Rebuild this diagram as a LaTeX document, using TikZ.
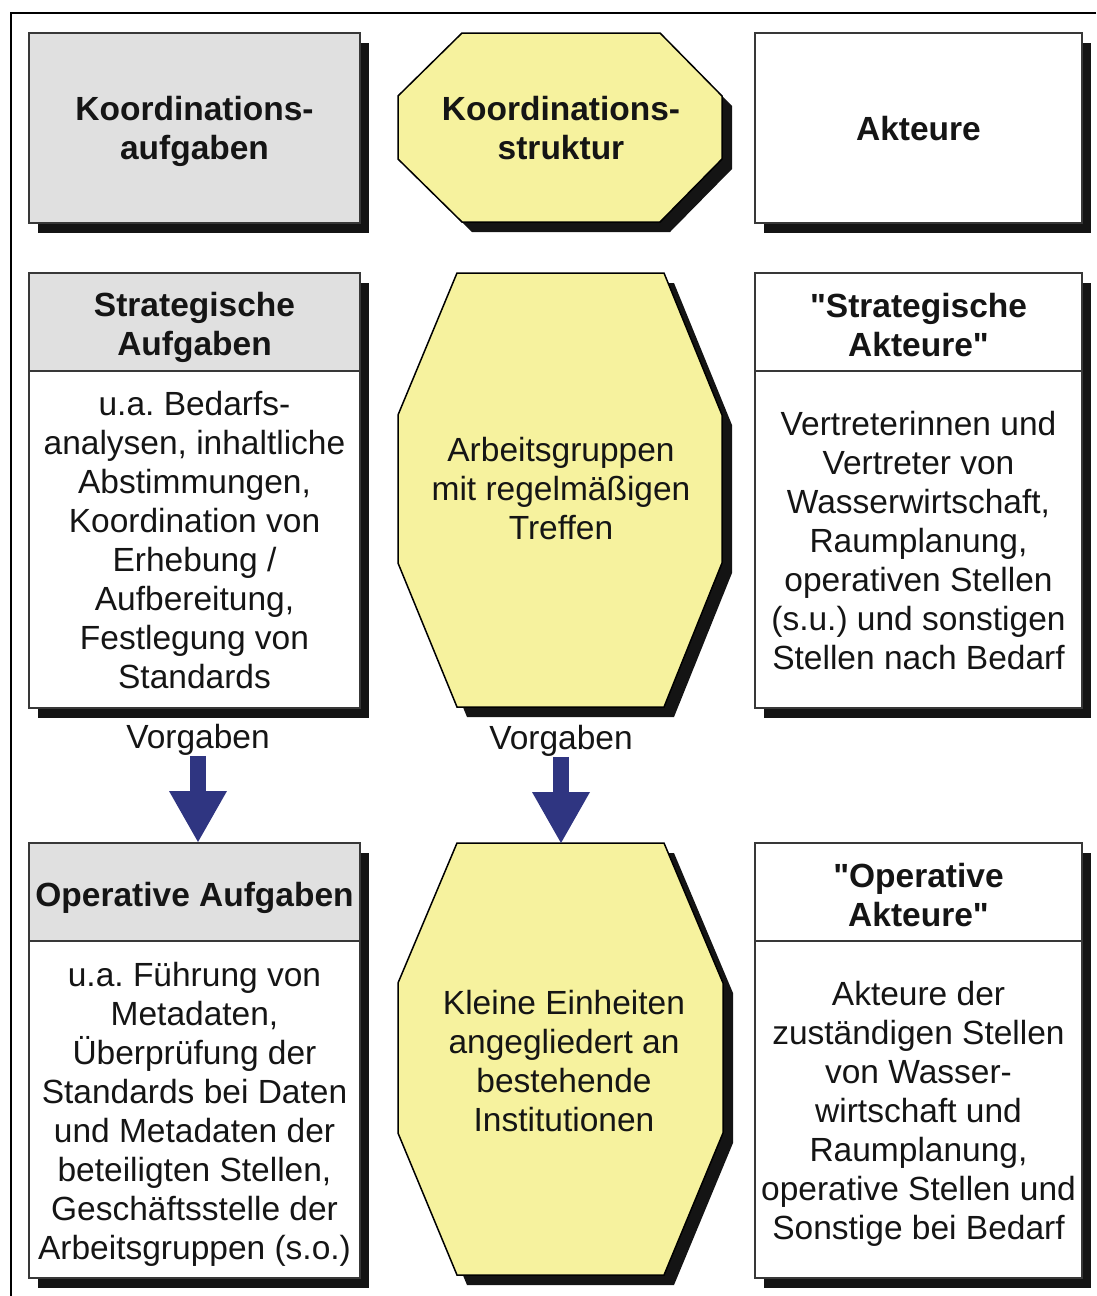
\documentclass[tikz,border=0pt]{standalone}
\usepackage{fontspec}
\setmainfont{Liberation Sans}
\usetikzlibrary{shadows,calc}
\definecolor{shadowc}{HTML}{141414}
\definecolor{boxgray}{HTML}{E0E0E0}
\definecolor{hexyellow}{HTML}{F6F29E}
\definecolor{edge}{HTML}{383838}
\definecolor{navy}{HTML}{2F3581}
\definecolor{ink}{HTML}{151515}
\newcommand{\qq}{\textquotedbl}

\begin{document}
\frenchspacing
\begin{tikzpicture}[x=1pt,y=-1pt,
  txt/.style={font=\fontsize{33.5pt}{39pt}\selectfont, text=ink, align=center, inner sep=0pt},
  bold/.style={txt, font=\fontsize{33.5pt}{39pt}\selectfont\bfseries},
  panel/.style={draw=edge, line width=2pt, minimum width=331pt, inner sep=0pt,
    drop shadow={shadow xshift=9pt, shadow yshift=-10pt, fill=shadowc, opacity=1}},
  header/.style={draw=edge, line width=2pt, fill=boxgray, minimum width=331pt,
    minimum height=98pt, anchor=north, inner sep=0pt},
  hexa/.style={fill=hexyellow, draw=black, line width=1.5pt, line join=miter},
  hexshadow/.style={fill=shadowc},
  frame/.style={line width=1.5pt, black},
  shaft/.style={navy, line width=16pt}
]
\useasboundingbox (0,0) rectangle (1096,1296);

% outer frame (top and left edges)
\coordinate (ftr) at (1096,13);
\coordinate (ftl) at (11,13);
\coordinate (fbl) at (11,1296);
\draw[frame] (ftr) -- (ftl) -- (fbl);

% ---------- row 1: column heads ----------
\node[panel, fill=boxgray, minimum height=190pt] (koa) at (194.5,128) {};
\node[bold, yshift=-3.5pt] (koat) at (koa.center) {Koordinations-\\aufgaben};

\fill[hexshadow, shift={(10,10)}] (462,33) -- (660,33) -- (722,96) -- (722,159)
  -- (660,222) -- (462,222) -- (398,159) -- (398,96) -- cycle;
\draw[hexa] (462,33) -- (660,33) -- (722,96) -- (722,159)
  -- (660,222) -- (462,222) -- (398,159) -- (398,96) -- cycle;
\node[bold] (kos) at (561,128) {Koordinations-\\struktur};

\node[panel, fill=white, minimum width=327pt, minimum height=190pt] (akt) at (918.5,128) {};
\node[bold, yshift=-1pt] (aktt) at (akt.center) {Akteure};

% ---------- row 2: strategic level ----------
\node[panel, fill=white, minimum height=435pt] (sa) at (194.5,490.5) {};
\node[header] (sah) at (sa.north) {};
\node[bold, yshift=-5.5pt] (saht) at (sah.center) {Strategische\\Aufgaben};
\node[txt] (sab) at ($(sah.south)!0.5!(sa.south)$)
  {u.a. Bedarfs-\\analysen, inhaltliche\\Abstimmungen,\\Koordination von\\Erhebung /\\Aufbereitung,\\Festlegung von\\Standards};

\fill[hexshadow, shift={(10,10)}] (457,273) -- (664,273) -- (722,415) -- (722,563)
  -- (664,707) -- (457,707) -- (398,563) -- (398,415) -- cycle;
\draw[hexa] (457,273) -- (664,273) -- (722,415) -- (722,563)
  -- (664,707) -- (457,707) -- (398,563) -- (398,415) -- cycle;
\node[txt] (ag) at (561,489) {Arbeitsgruppen\\mit regelmäßigen\\Treffen};

\node[panel, fill=white, minimum width=327pt, minimum height=435pt] (sak) at (918.5,490.5) {};
\node[header, fill=white, minimum width=327pt] (sakh) at (sak.north) {};
\node[bold, yshift=-3pt] (sakht) at (sakh.center) {\qq Strategische\\Akteure\qq};
\node[txt] (sakb) at ($(sakh.south)!0.5!(sak.south)$)
  {Vertreterinnen und\\Vertreter von\\Wasserwirtschaft,\\Raumplanung,\\operativen Stellen\\(s.u.) und sonstigen\\Stellen nach Bedarf};

% ---------- row 3: operative level ----------
\node[panel, fill=white, minimum height=435pt] (opa) at (194.5,1060.5) {};
\node[header] (opah) at (opa.north) {};
\node[bold, yshift=-5.5pt] (opaht) at (opah.center) {Operative Aufgaben};
\node[txt, yshift=-4pt] (opab) at ($(opah.south)!0.5!(opa.south)$)
  {u.a. Führung von\\Metadaten,\\Überprüfung der\\Standards bei Daten\\und Metadaten der\\beteiligten Stellen,\\Geschäftsstelle der\\Arbeitsgruppen (s.o.)};

\fill[hexshadow, shift={(10,10)}] (457,843) -- (664,843) -- (723,983) -- (723,1133)
  -- (664,1275) -- (457,1275) -- (398,1133) -- (398,983) -- cycle;
\draw[hexa] (457,843) -- (664,843) -- (723,983) -- (723,1133)
  -- (664,1275) -- (457,1275) -- (398,1133) -- (398,983) -- cycle;
\coordinate (kehead) at (561,843);
\node[txt] (ke) at (564,1061) {Kleine Einheiten\\angegliedert an\\bestehende\\Institutionen};

\node[panel, fill=white, minimum width=327pt, minimum height=435pt] (opk) at (918.5,1060.5) {};
\node[header, fill=white, minimum width=327pt] (opkh) at (opk.north) {};
\node[bold, yshift=-3pt] (opkht) at (opkh.center) {\qq Operative\\Akteure\qq};
\node[txt, yshift=-3pt] (opkb) at ($(opkh.south)!0.5!(opk.south)$)
  {Akteure der\\zuständigen Stellen\\von Wasser-\\wirtschaft und\\Raumplanung,\\operative Stellen und\\Sonstige bei Bedarf};

% ---------- "Vorgaben" block arrows ----------
\node[txt] (v1) at (198,740) {Vorgaben};
\node[txt] (v2) at (561,741) {Vorgaben};

\coordinate (a1s) at (v1.south);
\coordinate (a1t) at (v1.south |- opa.north);
\draw[shaft] (a1s) -- ($(a1t)+(0,-49)$);
\fill[navy] ($(a1t)+(-29,-51)$) -- ($(a1t)+(29,-51)$) -- (a1t) -- cycle;

\coordinate (a2s) at (v2.south);
\coordinate (a2t) at (v2.south |- kehead);
\draw[shaft] (a2s) -- ($(a2t)+(0,-49)$);
\fill[navy] ($(a2t)+(-29,-51)$) -- ($(a2t)+(29,-51)$) -- (a2t) -- cycle;

\end{tikzpicture}
\end{document}
